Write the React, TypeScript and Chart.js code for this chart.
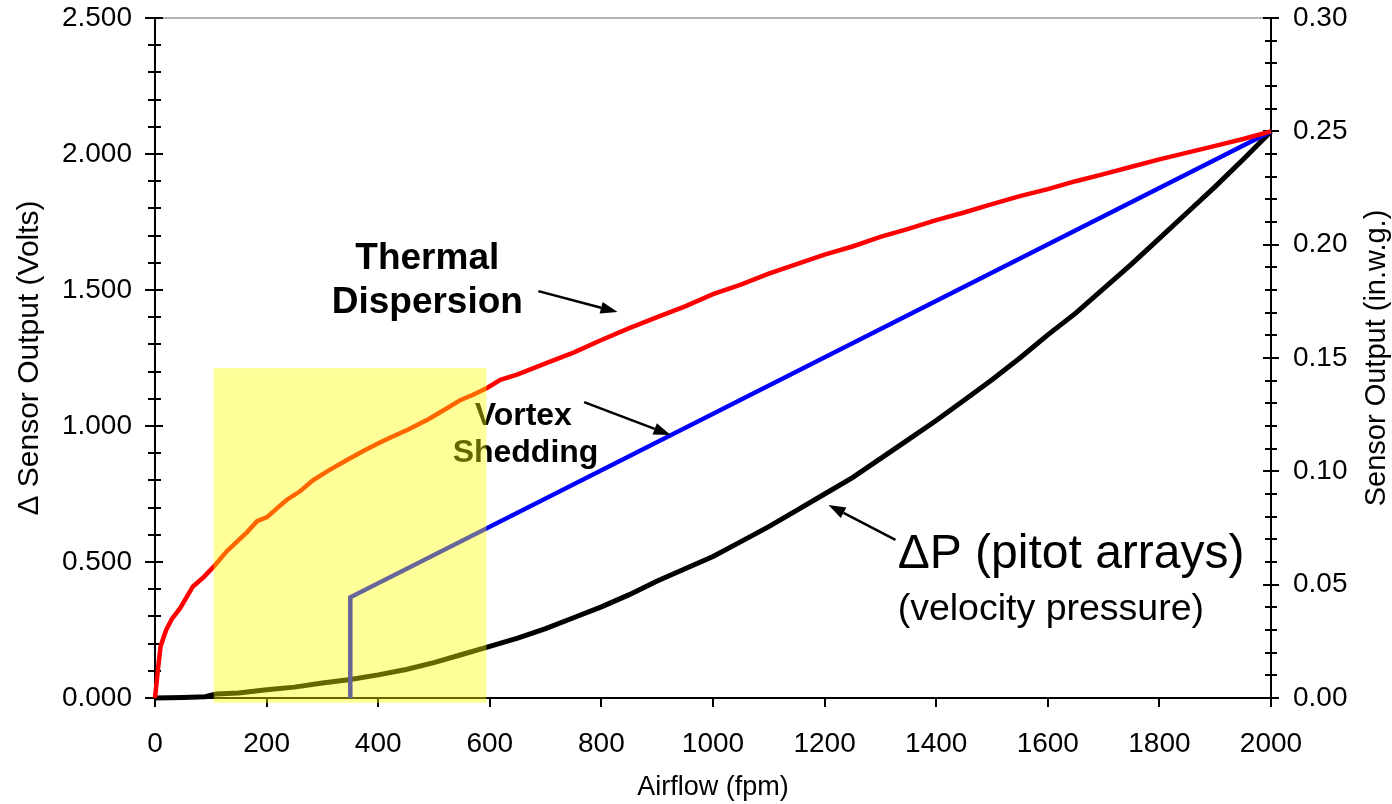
import React, { useEffect, useRef } from "react";
import { Chart, registerables } from "chart.js";

Chart.register(...registerables);

// ---- Data (Airflow in fpm, sensor output in Volts on left axis) ----
const thermalX = [0, 5, 10, 20, 30, 45, 68, 85, 104, 129, 147, 165, 183, 201, 220, 237, 260, 283, 310, 344, 375, 404, 430, 452, 490, 524, 547, 570, 595, 619, 650, 700, 750, 800, 850, 900, 950, 1000, 1050, 1100, 1150, 1200, 1250, 1300, 1350, 1400, 1450, 1500, 1550, 1600, 1650, 1700, 1750, 1800, 1850, 1900, 1950, 2000];
const thermalY = [0, 0.1, 0.19, 0.25, 0.29, 0.33, 0.41, 0.44, 0.48, 0.54, 0.575, 0.61, 0.65, 0.665, 0.7, 0.73, 0.76, 0.8, 0.835, 0.875, 0.91, 0.94, 0.965, 0.985, 1.025, 1.066, 1.095, 1.115, 1.14, 1.17, 1.19, 1.23, 1.27, 1.316, 1.36, 1.4, 1.44, 1.485, 1.52, 1.56, 1.595, 1.63, 1.66, 1.695, 1.725, 1.757, 1.785, 1.816, 1.845, 1.871, 1.9, 1.926, 1.953, 1.98, 2.005, 2.03, 2.055, 2.083];

const vortexX = [350, 350, 2000];
const vortexY = [0, 0.37, 2.083];

const pressureX = [0, 50, 90, 110, 150, 200, 250, 300, 350, 400, 450, 500, 550, 600, 650, 700, 750, 800, 850, 900, 950, 1000, 1050, 1100, 1150, 1200, 1250, 1300, 1350, 1400, 1450, 1500, 1550, 1600, 1650, 1700, 1750, 1800, 1850, 1900, 1950, 2000];
const pressureY = [0, 0.002, 0.005, 0.015, 0.018, 0.03, 0.04, 0.055, 0.068, 0.085, 0.105, 0.13, 0.16, 0.19, 0.22, 0.255, 0.295, 0.335, 0.38, 0.43, 0.475, 0.52, 0.575, 0.63, 0.69, 0.75, 0.81, 0.88, 0.95, 1.02, 1.095, 1.17, 1.25, 1.335, 1.415, 1.505, 1.595, 1.69, 1.785, 1.88, 1.98, 2.083];

// Axis ranges / ticks
const xRange = [0, 2000];
const xStep = 200;
const leftRange = [0, 2.5];
const leftStep = 0.5;
const leftMinor = 0.1;
const rightRange = [0, 0.3];
const rightStep = 0.05;
const rightMinor = 0.01;

// Titles
const xTitle = "Airflow (fpm)";
const leftTitle = "\u0394 Sensor Output (Volts)";
const rightTitle = "Sensor Output (in.w.g.)";

// Highlight region (data coords): [xFrom, xTo, yFrom, yTo]
const highlightBox = [105, 594, -0.018, 1.213];

// Annotations (data coords)
const annoTexts = [
  { text: "Thermal", x: 488, y: 1.577, size: 37, bold: true, align: "center" },
  { text: "Dispersion", x: 488, y: 1.415, size: 37, bold: true, align: "center" },
  { text: "Vortex", x: 660, y: 1.004, size: 32, bold: true, align: "center" },
  { text: "Shedding", x: 664, y: 0.868, size: 32, bold: true, align: "center" },
  { text: "\u0394P (pitot arrays)", x: 1331, y: 0.478, size: 48, bold: false, align: "left" },
  { text: "(velocity pressure)", x: 1331, y: 0.287, size: 37.5, bold: false, align: "left" },
];
const arrowStartX = [687, 769, 1327];
const arrowStartY = [1.496, 1.088, 0.581];
const arrowEndX = [829, 924, 1207];
const arrowEndY = [1.419, 0.967, 0.71];

const FONT = "'Liberation Sans', Arial, Helvetica, sans-serif";

const zip = (xs: number[], ys: number[]) => xs.map((x, i) => ({ x, y: ys[i] }));

const decorPlugin = {
  id: "decor",
  beforeDatasetsDraw(chart: any) {
    const { ctx, chartArea: a, scales } = chart;
    const yl = scales.y;
    const yr = scales.y1;
    const xs = scales.x;
    ctx.save();
    const seg = (x1: number, y1: number, x2: number, y2: number) => {
      ctx.beginPath();
      ctx.moveTo(x1, y1);
      ctx.lineTo(x2, y2);
      ctx.stroke();
    };
    // top border
    ctx.strokeStyle = "#9a9a9a";
    ctx.lineWidth = 1.5;
    seg(a.left, a.top, a.right, a.top);
    // axes
    ctx.strokeStyle = "#000";
    ctx.lineWidth = 2;
    seg(a.left, a.top - 1, a.left, a.bottom + 1);
    seg(a.right, a.top - 1, a.right, a.bottom + 1);
    seg(a.left, a.bottom, a.right, a.bottom);
    // left ticks
    const nL = Math.round((leftRange[1] - leftRange[0]) / leftMinor);
    for (let i = 0; i <= nL; i++) {
      const v = leftRange[0] + i * leftMinor;
      const p = Math.round(yl.getPixelForValue(v));
      const major = i % Math.round(leftStep / leftMinor) === 0;
      if (major) seg(a.left - 10, p, a.left + 8, p);
      else seg(a.left - 7, p, a.left + 6, p);
    }
    // right ticks
    const nR = Math.round((rightRange[1] - rightRange[0]) / rightMinor);
    for (let i = 0; i <= nR; i++) {
      const v = rightRange[0] + i * rightMinor;
      const p = Math.round(yr.getPixelForValue(v));
      const major = i % Math.round(rightStep / rightMinor) === 0;
      if (major) seg(a.right - 8, p, a.right + 8, p);
      else seg(a.right - 6, p, a.right + 6, p);
    }
    // bottom ticks
    for (let v = xRange[0]; v <= xRange[1]; v += xStep) {
      const p = Math.round(xs.getPixelForValue(v));
      seg(p, a.bottom, p, a.bottom + 9);
    }
    // axis titles
    ctx.fillStyle = "#000";
    ctx.textAlign = "center";
    ctx.textBaseline = "middle";
    ctx.font = `27px ${FONT}`;
    ctx.fillText(xTitle, (a.left + a.right) / 2, 788);
    ctx.save();
    ctx.font = `30px ${FONT}`;
    ctx.translate(30, (a.top + a.bottom) / 2);
    ctx.rotate(-Math.PI / 2);
    ctx.fillText(leftTitle, 0, 0);
    ctx.restore();
    ctx.save();
    ctx.font = `29px ${FONT}`;
    ctx.translate(1377, (a.top + a.bottom) / 2);
    ctx.rotate(-Math.PI / 2);
    ctx.fillText(rightTitle, 0, 0);
    ctx.restore();
    ctx.restore();
  },
  afterDraw(chart: any) {
    const { ctx, scales } = chart;
    const yl = scales.y;
    const xs = scales.x;
    ctx.save();
    // annotation texts
    ctx.fillStyle = "#000";
    ctx.textBaseline = "alphabetic";
    annoTexts.forEach((t) => {
      ctx.font = `${t.bold ? "bold " : ""}${t.size}px ${FONT}`;
      ctx.textAlign = t.align as CanvasTextAlign;
      ctx.fillText(t.text, xs.getPixelForValue(t.x), yl.getPixelForValue(t.y));
    });
    // arrows
    ctx.strokeStyle = "#000";
    ctx.fillStyle = "#000";
    ctx.lineWidth = 2.5;
    arrowStartX.forEach((sx, i) => {
      const x1 = xs.getPixelForValue(sx);
      const y1 = yl.getPixelForValue(arrowStartY[i]);
      const x2 = xs.getPixelForValue(arrowEndX[i]);
      const y2 = yl.getPixelForValue(arrowEndY[i]);
      const ang = Math.atan2(y2 - y1, x2 - x1);
      const hl = 17;
      const hw = 6;
      const bx = x2 - hl * Math.cos(ang);
      const by = y2 - hl * Math.sin(ang);
      ctx.beginPath();
      ctx.moveTo(x1, y1);
      ctx.lineTo(bx, by);
      ctx.stroke();
      ctx.beginPath();
      ctx.moveTo(x2, y2);
      ctx.lineTo(bx + hw * Math.sin(ang), by - hw * Math.cos(ang));
      ctx.lineTo(bx - hw * Math.sin(ang), by + hw * Math.cos(ang));
      ctx.closePath();
      ctx.fill();
    });
    // translucent yellow highlight on top of everything
    const hx1 = xs.getPixelForValue(highlightBox[0]);
    const hx2 = xs.getPixelForValue(highlightBox[1]);
    const hy1 = yl.getPixelForValue(highlightBox[3]);
    const hy2 = yl.getPixelForValue(highlightBox[2]);
    ctx.fillStyle = "rgba(255,255,0,0.4)";
    ctx.fillRect(hx1, hy1, hx2 - hx1, hy2 - hy1);
    ctx.restore();
  },
};

const zeroPad = (s: any) => {
  s.paddingTop = 0;
  s.paddingBottom = 0;
  s.paddingLeft = 0;
  s.paddingRight = 0;
};

export default function App() {
  const ref = useRef<HTMLCanvasElement | null>(null);
  useEffect(() => {
    if (!ref.current) return;
    const chart = new Chart(ref.current, {
      type: "line",
      data: {
        datasets: [
          {
            label: "Thermal Dispersion",
            data: zip(thermalX, thermalY),
            borderColor: "#ff0000",
            borderWidth: 4.5,
            pointRadius: 0,
            tension: 0,
            clip: false as any,
            yAxisID: "y",
          },
          {
            label: "Vortex Shedding",
            data: zip(vortexX, vortexY),
            borderColor: "#0000ff",
            borderWidth: 4.5,
            pointRadius: 0,
            tension: 0,
            clip: false as any,
            yAxisID: "y",
          },
          {
            label: "\u0394P (pitot arrays)",
            data: zip(pressureX, pressureY),
            borderColor: "#000000",
            borderWidth: 5,
            pointRadius: 0,
            tension: 0,
            clip: false as any,
            yAxisID: "y",
          },
        ],
      },
      options: {
        animation: false,
        responsive: false,
        events: [],
        layout: { padding: { top: 18, left: 0, right: 0, bottom: 0 } },
        plugins: { legend: { display: false }, tooltip: { enabled: false } },
        scales: {
          x: {
            type: "linear",
            position: "bottom",
            min: xRange[0],
            max: xRange[1],
            grid: { display: false, drawTicks: false },
            border: { display: false },
            ticks: {
              stepSize: xStep,
              padding: 29,
              color: "#000",
              font: { family: FONT, size: 28 },
              maxRotation: 0,
              callback: (v: any) => String(v),
            },
            afterFit: (s: any) => {
              s.height = 106;
              zeroPad(s);
            },
          },
          y: {
            type: "linear",
            position: "left",
            min: leftRange[0],
            max: leftRange[1],
            grid: { display: false, drawTicks: false },
            border: { display: false },
            ticks: {
              stepSize: leftStep,
              padding: 23,
              color: "#000",
              font: { family: FONT, size: 28 },
              callback: (v: any) => Number(v).toFixed(3),
            },
            afterFit: (s: any) => {
              s.width = 155;
              zeroPad(s);
            },
          },
          y1: {
            type: "linear",
            position: "right",
            min: rightRange[0],
            max: rightRange[1],
            grid: { display: false, drawTicks: false },
            border: { display: false },
            ticks: {
              stepSize: rightStep,
              padding: 22,
              color: "#000",
              font: { family: FONT, size: 28 },
              callback: (v: any) => Number(v).toFixed(2),
            },
            afterFit: (s: any) => {
              s.width = 121;
              zeroPad(s);
            },
          },
        },
      },
      plugins: [decorPlugin],
    });
    return () => chart.destroy();
  }, []);
  return (
    <div style={{ position: "absolute", left: 0, top: 0, width: 1392, height: 804, background: "#fff" }}>
      <canvas ref={ref} width={1392} height={804} style={{ display: "block", width: 1392, height: 804 }} />
    </div>
  );
}
